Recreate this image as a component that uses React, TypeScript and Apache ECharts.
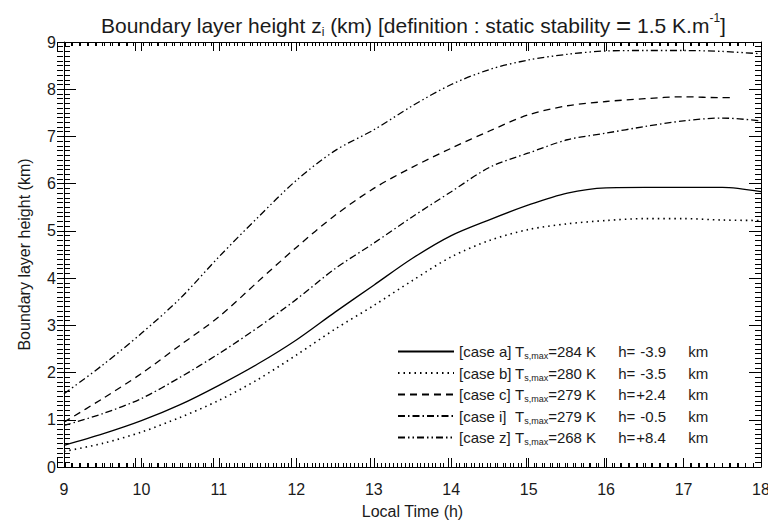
import React, { useEffect, useRef } from "react";
import * as echarts from "echarts";

// ---- data ----
const hours = [9, 9.5, 10, 10.5, 11, 11.5, 12, 12.5, 13, 13.5, 14, 14.5, 15, 15.5, 16, 16.5, 17, 17.5, 18];
const hoursC = [9, 9.5, 10, 10.5, 11, 11.5, 12, 12.5, 13, 13.5, 14, 14.5, 15, 15.5, 16, 16.5, 17, 17.5, 17.6];

const caseA = [0.46, 0.70, 0.98, 1.32, 1.73, 2.18, 2.69, 3.28, 3.85, 4.42, 4.90, 5.24, 5.55, 5.80, 5.91, 5.92, 5.92, 5.92, 5.83];
const caseB = [0.33, 0.50, 0.74, 1.05, 1.41, 1.85, 2.37, 2.92, 3.42, 3.95, 4.45, 4.80, 5.03, 5.15, 5.22, 5.26, 5.26, 5.23, 5.22];
const caseC = [0.95, 1.45, 1.98, 2.58, 3.18, 3.92, 4.65, 5.33, 5.90, 6.35, 6.75, 7.12, 7.46, 7.65, 7.74, 7.80, 7.84, 7.82, 7.82];
const caseI = [0.88, 1.13, 1.45, 1.90, 2.40, 2.95, 3.55, 4.20, 4.74, 5.30, 5.83, 6.35, 6.65, 6.93, 7.07, 7.21, 7.33, 7.39, 7.33];
const caseZ = [1.55, 2.16, 2.83, 3.57, 4.45, 5.28, 6.07, 6.70, 7.14, 7.65, 8.10, 8.42, 8.62, 8.74, 8.81, 8.82, 8.82, 8.80, 8.75];

const caseNames = ["case a", "case b", "case c", "case i", "case z"];
const tsMax = [284, 280, 279, 279, 268];
const hVals = [" -3.9", " -3.5", "+2.4", " -0.5", "+8.4"];

const FONT = "'Liberation Sans', Arial, sans-serif";
const INK = "#1a1a1a";

const G = { left: 49, right: 15, top: 34, bottom: 57 };

function makeX(pos: string, labels: boolean) {
  return {
    type: "value",
    gridIndex: 0,
    min: 9,
    max: 18,
    interval: 1,
    position: pos,
    axisLine: { show: true, onZero: false, lineStyle: { color: "#000" } },
    axisTick: { show: true, inside: true, length: 9, lineStyle: { color: "#000" } },
    minorTick: { show: true, splitNumber: 10, length: 4 },
    splitLine: { show: false },
    axisLabel: labels
      ? { show: true, margin: 14, fontFamily: FONT, fontSize: 16, color: INK }
      : { show: false },
  };
}

function makeY(pos: string, labels: boolean) {
  return {
    type: "value",
    gridIndex: 0,
    min: 0,
    max: 9,
    interval: 1,
    position: pos,
    axisLine: { show: true, onZero: false, lineStyle: { color: "#000" } },
    axisTick: { show: true, inside: true, length: 12, lineStyle: { color: "#000" } },
    minorTick: { show: true, splitNumber: 10, length: 6 },
    splitLine: { show: false },
    axisLabel: labels
      ? { show: true, margin: 8, fontFamily: FONT, fontSize: 16, color: INK }
      : { show: false },
  };
}

// thin strip grids along the frame: their split lines act as inward tick marks
function stripAxis(gridIndex: number, dir: "x" | "y", minor: boolean) {
  const scale = dir === "x" ? { min: 9, max: 18 } : { min: 0, max: 9 };
  const ticked = {
    type: "value",
    gridIndex,
    ...scale,
    interval: 1,
    axisLine: { show: false },
    axisTick: { show: false },
    axisLabel: { show: false },
    minorTick: { show: false, splitNumber: 10 },
    splitLine: { show: !minor, lineStyle: { color: "#000", width: 1 } },
    minorSplitLine: { show: minor, lineStyle: { color: "#000", width: 1 } },
  };
  const hidden = { type: "value", gridIndex, show: false, min: 0, max: 1 };
  return dir === "x" ? { x: ticked, y: hidden } : { x: hidden, y: ticked };
}

export default function App() {
  const ref = useRef<HTMLDivElement>(null);

  useEffect(() => {
    if (!ref.current) return;
    const chart = echarts.init(ref.current, undefined, { renderer: "svg" });

    const dashes: any[] = ["solid", [1.5, 4], [7, 5], [7, 3, 1.5, 3], [7, 3, 1.5, 3, 1.5, 3]];
    const widths = [1.3, 1.6, 1.3, 1.3, 1.3];
    const dataSets = [
      hours.map((h, i) => [h, caseA[i]]),
      hours.map((h, i) => [h, caseB[i]]),
      hoursC.map((h, i) => [h, caseC[i]]),
      hours.map((h, i) => [h, caseI[i]]),
      hours.map((h, i) => [h, caseZ[i]]),
    ];

    const strips = [
      { grid: { left: G.left, right: G.right, bottom: G.bottom, height: 9 }, dir: "x", minor: false },
      { grid: { left: G.left, right: G.right, bottom: G.bottom, height: 4 }, dir: "x", minor: true },
      { grid: { left: G.left, right: G.right, top: G.top, height: 9 }, dir: "x", minor: false },
      { grid: { left: G.left, right: G.right, top: G.top, height: 4 }, dir: "x", minor: true },
      { grid: { left: G.left, width: 12, top: G.top, bottom: G.bottom }, dir: "y", minor: false },
      { grid: { left: G.left, width: 6, top: G.top, bottom: G.bottom }, dir: "y", minor: true },
      { grid: { right: G.right, width: 12, top: G.top, bottom: G.bottom }, dir: "y", minor: false },
      { grid: { right: G.right, width: 6, top: G.top, bottom: G.bottom }, dir: "y", minor: true },
    ];
    const stripAxes = strips.map((s, i) => stripAxis(i + 1, s.dir as any, s.minor));

    chart.setOption({
      animation: false,
      backgroundColor: "#fff",
      title: {
        text: "Boundary layer height z{sub|i} (km) [definition : static stability {eq|=} 1.5 K.m{sup|-1}]",
        left: 88,
        top: -1,
        textStyle: {
          fontFamily: FONT,
          fontSize: 21,
          fontWeight: "normal",
          color: INK,
          rich: {
            sub: { fontFamily: FONT, fontSize: 12, color: INK, padding: [11, 0, 0, 0], verticalAlign: "bottom" },
            sup: { fontFamily: FONT, fontSize: 12, color: INK, padding: [0, 0, 11, 0], verticalAlign: "top" },
            eq: { fontFamily: FONT, fontSize: 26, color: INK },
          },
        },
      },
      grid: [G, ...strips.map((s) => s.grid)],
      legend: {
        orient: "vertical",
        left: 384,
        top: 331,
        itemWidth: 56,
        itemHeight: 12,
        itemGap: 5,
        selectedMode: false,
        data: caseNames,
        itemStyle: { color: "rgba(0,0,0,0)", borderWidth: 0, opacity: 0 },
        formatter: (name: string) => {
          const k = caseNames.indexOf(name);
          return `{c|[${name}]}{t|T}{s|s,max}{v|=${tsMax[k]} K}{h|h=}{hv|${hVals[k]}}{km|km}`;
        },
        textStyle: {
          fontFamily: FONT,
          fontSize: 15,
          color: INK,
          rich: {
            c: { fontFamily: FONT, fontSize: 15, color: INK, width: 56 },
            t: { fontFamily: FONT, fontSize: 15, color: INK },
            s: { fontFamily: FONT, fontSize: 9, color: INK, padding: [9, 0, 0, 0], verticalAlign: "bottom" },
            v: { fontFamily: FONT, fontSize: 15, color: INK, width: 70 },
            h: { fontFamily: FONT, fontSize: 15, color: INK, width: 18 },
            hv: { fontFamily: FONT, fontSize: 15, color: INK, width: 52 },
            km: { fontFamily: FONT, fontSize: 15, color: INK },
          },
        },
      },
      xAxis: [
        {
          ...makeX("bottom", true),
          name: "Local Time (h)",
          nameLocation: "middle",
          nameGap: 36,
          nameTextStyle: { fontFamily: FONT, fontSize: 16, color: INK },
        },
        makeX("top", false),
        ...stripAxes.map((a) => a.x),
      ],
      yAxis: [
        {
          ...makeY("left", true),
          name: "Boundary layer height (km)",
          nameLocation: "middle",
          nameGap: 32,
          nameTextStyle: { fontFamily: FONT, fontSize: 16, color: INK },
        },
        makeY("right", false),
        ...stripAxes.map((a) => a.y),
      ],
      series: caseNames.map((n, k) => ({
        name: n,
        type: "line",
        xAxisIndex: 0,
        yAxisIndex: 0,
        data: dataSets[k],
        showSymbol: false,
        symbol: "none",
        smooth: 0.3,
        lineStyle: { color: "#000", width: widths[k], type: dashes[k] },
        itemStyle: { color: "#000" },
      })),
    });

    return () => chart.dispose();
  }, []);

  return <div ref={ref} style={{ width: 768, height: 516 }} />;
}
